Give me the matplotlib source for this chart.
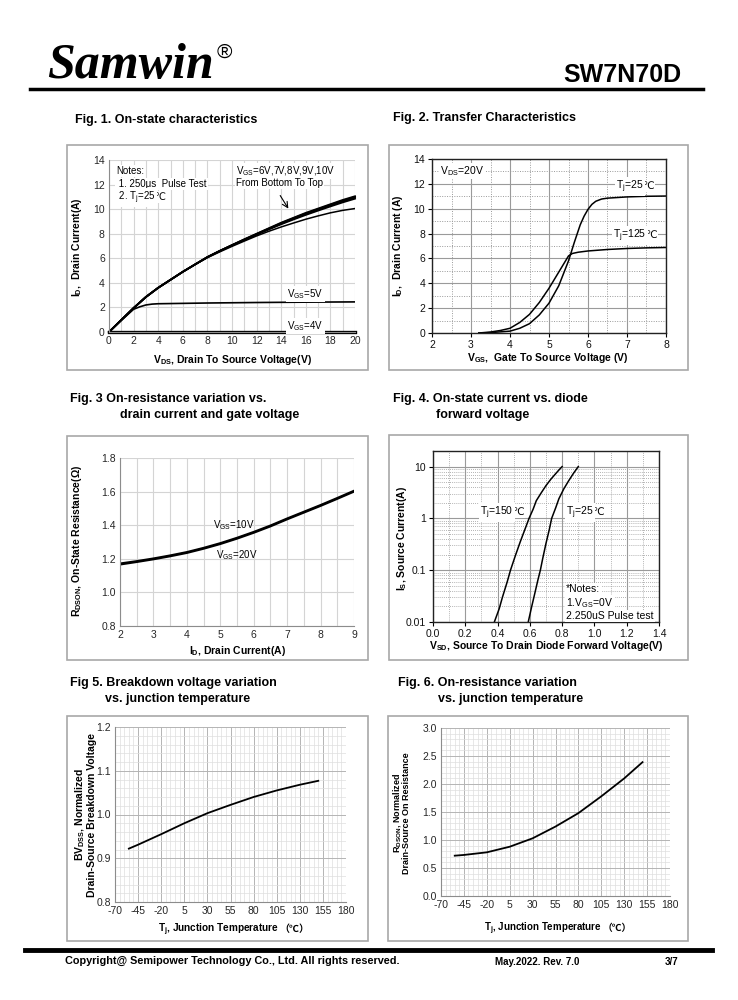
import matplotlib
matplotlib.use('Agg')
import matplotlib.pyplot as plt
from matplotlib.patches import Rectangle
from matplotlib.lines import Line2D
from matplotlib.ticker import MultipleLocator, FixedLocator, NullFormatter, FormatStrFormatter

plt.rcParams['font.family'] = ['Liberation Sans', 'DejaVu Sans', 'Noto Sans CJK SC']
plt.rcParams['mathtext.fontset'] = 'custom'
plt.rcParams['mathtext.rm'] = 'Liberation Sans'
plt.rcParams['mathtext.default'] = 'regular'
plt.rcParams['axes.unicode_minus'] = False

W, H = 738, 1000

# ---- Fig 1 data: on-state characteristics ----
vds = [0, 1, 2, 3, 4, 5, 6, 7, 8, 9, 10, 11, 12, 13, 14, 15, 16, 17, 18, 19, 20]
id_10v = [0, 0.98, 1.95, 2.85, 3.6, 4.25, 4.9, 5.5, 6.1, 6.6, 7.08, 7.55, 8.0, 8.45, 8.9, 9.3, 9.7, 10.05, 10.4, 10.75, 11.05]
id_9v = [0, 0.98, 1.95, 2.85, 3.6, 4.25, 4.9, 5.5, 6.1, 6.6, 7.07, 7.53, 7.98, 8.42, 8.86, 9.26, 9.65, 10.0, 10.35, 10.68, 11.0]
id_8v = [0, 0.98, 1.95, 2.85, 3.6, 4.25, 4.9, 5.5, 6.1, 6.6, 7.06, 7.51, 7.95, 8.39, 8.82, 9.22, 9.6, 9.95, 10.3, 10.62, 10.93]
id_7v = [0, 0.98, 1.95, 2.85, 3.6, 4.25, 4.9, 5.5, 6.08, 6.58, 7.04, 7.48, 7.92, 8.35, 8.77, 9.16, 9.53, 9.88, 10.22, 10.55, 10.85]
id_6v = [0, 0.98, 1.95, 2.85, 3.6, 4.25, 4.9, 5.5, 6.05, 6.52, 6.97, 7.4, 7.82, 8.2, 8.55, 8.87, 9.18, 9.45, 9.7, 9.9, 10.05]
vds_5v = [0, 1, 2, 2.5, 3, 3.5, 4, 6, 8, 12, 16, 20]
id_5v = [0, 0.95, 1.85, 2.05, 2.2, 2.27, 2.3, 2.33, 2.36, 2.4, 2.43, 2.45]
vds_4v = [0, 20]
id_4v = [0, 0]

# ---- Fig 2 data: transfer characteristics ----
vgs_25 = [3.2, 3.5, 4.0, 4.25, 4.5, 4.75, 5.0, 5.25, 5.5, 5.65, 5.8, 5.9, 6.0, 6.1, 6.2, 6.35, 6.5, 7.0, 7.5, 8.0]
id_25 = [0, 0.03, 0.15, 0.38, 0.75, 1.45, 2.4, 3.8, 5.8, 7.3, 8.7, 9.4, 9.95, 10.35, 10.6, 10.78, 10.85, 10.95, 11.0, 11.02]
vgs_125 = [3.2, 3.5, 3.75, 4.0, 4.25, 4.5, 4.75, 5.0, 5.25, 5.5, 5.6, 5.75, 6.0, 6.5, 7.0, 7.5, 8.0]
id_125 = [0, 0.08, 0.2, 0.38, 0.85, 1.5, 2.45, 3.6, 4.9, 6.2, 6.4, 6.5, 6.6, 6.72, 6.8, 6.85, 6.88]

# ---- Fig 3 data: on-resistance vs drain current ----
id_r = [2, 2.5, 3, 3.5, 4, 4.5, 5, 5.5, 6, 6.5, 7, 7.5, 8, 8.5, 9]
rds_10v = [1.172, 1.186, 1.202, 1.22, 1.24, 1.265, 1.293, 1.325, 1.36, 1.398, 1.44, 1.48, 1.52, 1.562, 1.605]
rds_20v = [1.166, 1.181, 1.197, 1.215, 1.235, 1.26, 1.288, 1.32, 1.355, 1.393, 1.435, 1.475, 1.515, 1.557, 1.6]

# ---- Fig 4 data: diode forward voltage ----
vsd_150 = [0.38, 0.41, 0.43, 0.46, 0.48, 0.51, 0.54, 0.57, 0.595, 0.62, 0.64, 0.67, 0.70, 0.73, 0.76, 0.78, 0.80]
is_150 = [0.01, 0.018, 0.03, 0.06, 0.1, 0.19, 0.35, 0.62, 1.0, 1.5, 2.2, 3.1, 4.3, 5.7, 7.3, 8.6, 10]
vsd_25 = [0.59, 0.61, 0.63, 0.65, 0.665, 0.68, 0.70, 0.72, 0.735, 0.76, 0.78, 0.81, 0.84, 0.87, 0.90]
is_25 = [0.01, 0.019, 0.035, 0.065, 0.1, 0.17, 0.33, 0.6, 1.0, 1.6, 2.4, 3.7, 5.3, 7.4, 10]

# ---- Fig 5 / Fig 6 data: temperature dependence ----
tj = [-55, -45, -20, 5, 30, 55, 80, 105, 130, 150]
bvdss = [0.922, 0.931, 0.955, 0.980, 1.003, 1.022, 1.040, 1.055, 1.068, 1.077]
rdson_n = [0.72, 0.733, 0.78, 0.88, 1.03, 1.24, 1.48, 1.78, 2.10, 2.39]

fig = plt.figure(figsize=(W / 100, H / 100), dpi=100)
renderer = fig.canvas.get_renderer()


def ax_at(x0, y0, x1, y1):
    return fig.add_axes([x0 / W, 1 - y1 / H, (x1 - x0) / W, (y1 - y0) / H])


def frame(x0, y0, x1, y1):
    fig.add_artist(Rectangle((x0 / W, 1 - y1 / H), (x1 - x0) / W, (y1 - y0) / H,
                             transform=fig.transFigure, fill=False, ec='#a8a8a8', lw=1.2))


def ftext(x, y, s, **kw):
    kw.setdefault('va', 'center')
    return fig.text(x / W, 1 - y / H, s, **kw)


def pieces(x, y, parts, ha='left', **kw):
    # several texts on one baseline (mathtext cannot fall back to other fonts for ℃)
    texts, gaps = [], []
    for s, ex in parts:
        ex = dict(ex)
        gaps.append(ex.pop('dx', 0))
        texts.append(fig.text(0, 1 - y / H, s, va='baseline', **{**kw, **ex}))
    widths = [t.get_window_extent(renderer).width for t in texts]
    total = sum(widths) + sum(gaps)
    x0 = x - total / 2 if ha == 'center' else x
    for t, w, g in zip(texts, widths, gaps):
        x0 += g
        t.set_x(x0 / W)
        x0 += w
    return texts


def hline(x0, x1, y, lw):
    fig.add_artist(Line2D([x0 / W, x1 / W], [1 - y / H] * 2, lw=lw, color='black'))


white = dict(fc='white', ec='none', pad=1)
TS = 7.5  # tick size
LS = 7.5  # label size
celsius = ('℃', {'family': 'DejaVu Sans', 'dx': -1.5, 'zorder': 2.9})

# header / footer
ftext(47, 78, 'Samwin', family='Liberation Serif', weight='bold', style='italic', size=36, va='baseline')
ftext(217, 52, '®', family='Liberation Sans', size=15)
ftext(681, 82, 'SW7N70D', weight='bold', size=18, ha='right', va='baseline')
hline(30, 703, 89, 2.5)
hline(25, 712, 950, 3.5)
ftext(65, 961, 'Copyright@ Semipower Technology Co., Ltd. All rights reserved.', weight='bold', size=7.8)
ftext(495, 962, 'May.2022. Rev. 7.0', weight='bold', size=7)
ftext(665, 962, '3/7', weight='bold', size=7)

# titles
ftext(75, 120, 'Fig. 1. On-state characteristics', weight='bold', size=9)
ftext(393, 118, 'Fig. 2. Transfer Characteristics', weight='bold', size=9)
ftext(70, 399, 'Fig. 3 On-resistance variation vs.', weight='bold', size=9)
ftext(120, 415, 'drain current and gate voltage', weight='bold', size=9)
ftext(393, 399, 'Fig. 4. On-state current vs. diode', weight='bold', size=9)
ftext(436, 415, 'forward voltage', weight='bold', size=9)
ftext(70, 683, 'Fig 5. Breakdown voltage variation', weight='bold', size=9)
ftext(105, 699, 'vs. junction temperature', weight='bold', size=9)
ftext(398, 683, 'Fig. 6. On-resistance variation', weight='bold', size=9)
ftext(438, 699, 'vs. junction temperature', weight='bold', size=9)

for box in [(67, 145, 368, 370), (389, 145, 688, 370), (67, 436, 368, 660),
            (389, 435, 688, 660), (67, 716, 368, 941), (388, 716, 688, 941)]:
    frame(*box)


def light_axes(ax, spine='#8c8c8c'):
    for s in ['top', 'right']:
        ax.spines[s].set_visible(False)
    for s in ['left', 'bottom']:
        ax.spines[s].set_color(spine)
        ax.spines[s].set_linewidth(0.8)
    ax.tick_params(which='both', length=0, labelsize=TS, labelcolor='#262626', pad=3)


def dark_axes(ax):
    for s in ax.spines.values():
        s.set_color('#222222')
        s.set_linewidth(1.0)
    ax.tick_params(which='major', length=3, direction='out', labelsize=TS, labelcolor='#111111', pad=2)
    ax.tick_params(which='minor', length=0)


# ---- Fig 1 ----
ax1 = ax_at(109, 160, 355, 332)
ax1.set_xlim(0, 20)
ax1.set_ylim(0, 14)
ax1.set_xticks(range(0, 21, 2))
ax1.set_yticks(range(0, 15, 2))
ax1.xaxis.set_minor_locator(MultipleLocator(1))
ax1.grid(axis='x', which='both', color='#d4d4d4', lw=0.8)
ax1.grid(axis='y', which='major', color='#d4d4d4', lw=0.8)
light_axes(ax1)
for ys in [id_7v, id_8v, id_9v, id_10v]:
    ax1.plot(vds, ys, color='black', lw=1.3, clip_on=False)
ax1.plot(vds, id_6v, color='black', lw=1.1)
ax1.plot(vds_5v, id_5v, color='black', lw=1.2)
ax1.plot(vds_4v, id_4v, color='black', lw=2.4, clip_on=False)
ax1.annotate('', xy=(14.7, 9.85), xytext=(13.8, 11.3),
             arrowprops=dict(arrowstyle='->', color='black', lw=0.8))
ftext(116, 171, 'Notes:', size=7, bbox=white)
ftext(116, 184, ' 1. 250μs  Pulse Test', size=7, bbox=white)
pieces(116, 200, [(' 2. T$_j$=25 ', {}), celsius], size=7, bbox=white)
ftext(236, 171, 'V$_{GS}$=6V,7V,8V,9V,10V', size=7, bbox=white)
ftext(236, 183, 'From Bottom To Top', size=7, bbox=white)
ftext(287, 294, 'V$_{GS}$=5V', size=7, bbox=white)
ftext(287, 326, 'V$_{GS}$=4V', size=7, bbox=white)
ftext(232, 360, 'V$_{DS}$, Drain To Source Voltage(V)', weight='bold', size=LS, ha='center')
ftext(77, 247, 'I$_D$,  Drain Current(A)', weight='bold', size=LS, ha='center', rotation=90)

# ---- Fig 2 ----
ax2 = ax_at(432, 159, 666, 333)
ax2.set_xlim(2, 8)
ax2.set_ylim(0, 14)
ax2.set_xticks(range(2, 9))
ax2.set_yticks(range(0, 15, 2))
ax2.xaxis.set_minor_locator(MultipleLocator(0.5))
ax2.yaxis.set_minor_locator(MultipleLocator(1))
ax2.grid(which='major', color='#9a9a9a', lw=0.8)
ax2.grid(which='minor', color='#9a9a9a', lw=0.7, ls=(0, (1, 1.5)))
dark_axes(ax2)
ax2.plot(vgs_25, id_25, color='black', lw=1.1)
ax2.plot(vgs_125, id_125, color='black', lw=1.1)
ftext(440, 171, 'V$_{DS}$=20V', size=7.5, bbox=white)
pieces(616, 189, [('T$_j$=25', {}), celsius], size=7.5, bbox=white)
pieces(613, 238, [('T$_j$=125', {}), celsius], size=7.5, bbox=white)
ftext(548, 358, 'V$_{GS}$,  Gate To Source Voltage (V)', weight='bold', size=LS, ha='center')
ftext(398, 246, 'I$_D$,  Drain Current (A)', weight='bold', size=LS, ha='center', rotation=90)

# ---- Fig 3 ----
ax3 = ax_at(120, 458, 354, 626)
ax3.set_xlim(2, 9)
ax3.set_ylim(0.8, 1.8)
ax3.set_xticks(range(2, 10))
ax3.set_yticks([0.8, 1.0, 1.2, 1.4, 1.6, 1.8])
ax3.yaxis.set_major_formatter(FormatStrFormatter('%.1f'))
ax3.xaxis.set_minor_locator(MultipleLocator(0.5))
ax3.grid(axis='x', which='both', color='#d4d4d4', lw=0.8)
ax3.grid(axis='y', which='major', color='#d4d4d4', lw=0.8)
light_axes(ax3)
ax3.plot(id_r, rds_10v, color='black', lw=1.5)
ax3.plot(id_r, rds_20v, color='black', lw=1.5)
ftext(213, 525, 'V$_{GS}$=10V', size=7)
ftext(216, 555, 'V$_{GS}$=20V', size=7)
ftext(237, 651, 'I$_D$, Drain Current(A)', weight='bold', size=LS, ha='center')
ftext(77, 541, 'R$_{DSON}$, On-State Resistance(Ω)', weight='bold', size=LS, ha='center', rotation=90)

# ---- Fig 4 ----
ax4 = ax_at(433, 451, 659, 622)
ax4.set_yscale('log')
ax4.set_xlim(0, 1.4)
ax4.set_ylim(0.01, 20)
ax4.set_xticks([0.0, 0.2, 0.4, 0.6, 0.8, 1.0, 1.2, 1.4])
ax4.xaxis.set_major_formatter(FormatStrFormatter('%.1f'))
ax4.xaxis.set_minor_locator(MultipleLocator(0.1))
ax4.set_yticks([0.01, 0.1, 1, 10])
ax4.set_yticklabels(['0.01', '0.1', '1', '10'])
ax4.yaxis.set_minor_locator(FixedLocator([m * d for d in [0.01, 0.1, 1, 10] for m in range(2, 10)]))
ax4.yaxis.set_minor_formatter(NullFormatter())
ax4.grid(which='major', color='#9a9a9a', lw=0.8)
ax4.grid(which='minor', color='#9a9a9a', lw=0.6, ls=(0, (1, 1.5)))
dark_axes(ax4)
ax4.plot(vsd_150, is_150, color='black', lw=1.1)
ax4.plot(vsd_25, is_25, color='black', lw=1.1)
pieces(480, 515, [('T$_j$=150', {}), celsius], size=7.5, bbox=white)
pieces(566, 515, [('T$_j$=25', {}), celsius], size=7.5, bbox=white)
ftext(566, 589, '*Notes:', size=7.5, bbox=white)
ftext(566, 603, '1.V$_{GS}$=0V', size=7.5, bbox=white)
ftext(566, 616, '2.250uS Pulse test', size=7.5, bbox=white)
ftext(546, 646, 'V$_{SD}$, Source To Drain Diode Forward Voltage(V)', weight='bold', size=LS, ha='center')
ftext(402, 538, 'I$_S$, Source Current(A)', weight='bold', size=LS, ha='center', rotation=90)

# ---- Fig 5 / Fig 6 ----
temp_ticks = list(range(-70, 181, 25))


def temp_axes(ax, ymin, ymax, ystep, yminor):
    ax.set_xlim(-70, 180)
    ax.set_ylim(ymin, ymax)
    ax.set_xticks(temp_ticks)
    ax.yaxis.set_major_locator(MultipleLocator(ystep))
    ax.yaxis.set_major_formatter(FormatStrFormatter('%.1f'))
    ax.xaxis.set_minor_locator(MultipleLocator(5))
    ax.yaxis.set_minor_locator(MultipleLocator(yminor))
    ax.grid(which='major', color='#b4b4b4', lw=0.7)
    ax.grid(which='minor', color='#dedede', lw=0.5)
    light_axes(ax)


paren_c = ('（℃）', {'family': 'Noto Sans CJK SC'})

ax5 = ax_at(115, 727, 346, 902)
temp_axes(ax5, 0.8, 1.2, 0.1, 0.02)
ax5.plot(tj, bvdss, color='black', lw=1.3)
pieces(234, 932, [('T$_j$, Junction Temperature ', {}), paren_c], ha='center', weight='bold', size=7.2)
ftext(85, 815, 'BV$_{DSS}$, Normalized\nDrain-Source Breakdown Voltage', weight='bold', size=7.5,
      ha='center', rotation=90, linespacing=0.95)

ax6 = ax_at(441, 728, 670, 896)
temp_axes(ax6, 0.0, 3.0, 0.5, 0.1)
ax6.plot(tj, rdson_n, color='black', lw=1.3)
pieces(558, 931, [('T$_j$, Junction Temperature ', {}), paren_c], ha='center', weight='bold', size=7)
ftext(401, 813, 'R$_{DSON}$, Normalized\nDrain-Source On Resistance', weight='bold', size=6.5,
      ha='center', rotation=90, linespacing=0.95)

fig.savefig('out.png', dpi=100)
